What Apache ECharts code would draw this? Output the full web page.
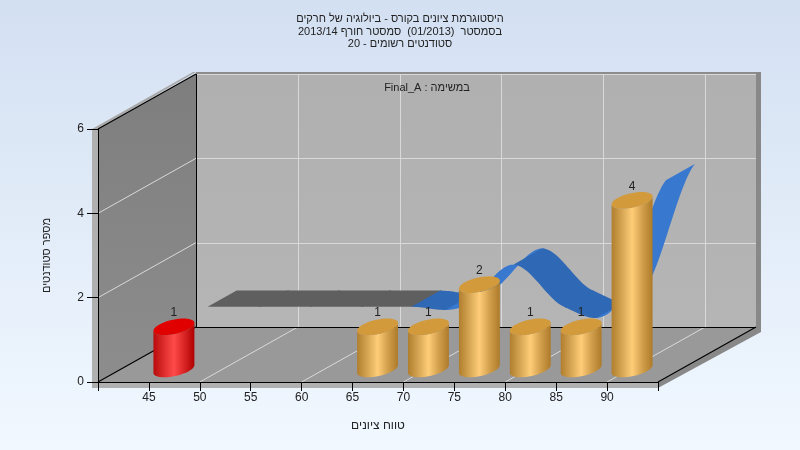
<!DOCTYPE html>
<html><head><meta charset="utf-8">
<style>html,body{margin:0;padding:0;background:#fff}#c{width:800px;height:450px}</style>
<script src="https://cdn.jsdelivr.net/npm/echarts@6/dist/echarts.min.js"></script>
</head><body><div id="c"></div>
<script>
const titleLines = ['היסטוגרמת ציונים בקורס - ביולוגיה של חרקים','בסמסטר  (01/2013)  סמסטר חורף 2013/14','סטודנטים רשומים - 20'];
const noteText = 'Final_A : במשימה';
const xAxisName = 'טווח ציונים';
const yAxisName = 'מספר סטודנטים';
const xTickLabels = [45,50,55,60,65,70,75,80,85,90];
const barGrades = [45,65,70,75,80,85,90];
const barCounts = [1,1,1,2,1,1,4];
const curveGrades = [45,50,55,60,65,70,75,80,85,90];
const curveCounts = [1,1,1,1,1,1,2,1,1,4];
const xMin = 40, xMax = 95, xStep = 5, yMin = 0, yMax = 6, yStep = 2;
const xGridValues = [50,60,70,80,90];
const yGridValues = [2,4,6];
const failBelow = 55;

// 3D projection of the depth axis, in pixels
const DX = 98, DY = -55;
const pr = (p, f) => [p[0] + DX * f, p[1] + DY * f];
const crisp = v => Math.round(v) + 0.5;
const poly = (points, fill, z2) => ({type:'polygon', shape:{points}, style:{fill}, z2:z2||0});
const seg = (a, b, stroke, lw) => ({type:'line', shape:{x1:a[0],y1:a[1],x2:b[0],y2:b[1]}, style:{stroke,lineWidth:lw||1}});
const vgrad = (a, b) => new echarts.graphic.LinearGradient(0,0,0,1,[{offset:0,color:a},{offset:1,color:b}]);
const hgrad = stops => new echarts.graphic.LinearGradient(0,0,1,0,stops.map((c,i)=>({offset:i/(stops.length-1),color:c})));

function renderWalls(params, api) {
  const fl = api.coord([xMin,yMin]), fr = api.coord([xMax,yMin]), tl = api.coord([xMin,yMax]);
  const bl = pr(fl,1), br = pr(fr,1), btl = pr(tl,1), btr = [br[0], btl[1]];
  const c = [];
  const t = 6, s = 5;
  // wall thickness
  c.push(poly([[fl[0]-t,tl[1]],[btl[0]-3,btl[1]-2],[btl[0],btl[1]-2],[tl[0],tl[1]]],'#a9a9a9'));
  c.push(poly([[fl[0]-t,tl[1]],[fl[0],tl[1]],[fl[0],fl[1]+s+1],[fl[0]-t,fl[1]+s+1]],'#b0b0b0'));
  c.push(poly([[fl[0],fl[1]],[fr[0],fr[1]],[fr[0],fr[1]+s+1],[fl[0],fl[1]+s+1]],'#b0b0b0'));
  c.push(poly([[btl[0],btl[1]-2],[br[0]+s,btl[1]-2],[br[0]+s,btl[1]],[btl[0],btl[1]]],'#8c8c8c'));
  c.push(poly([[br[0],btl[1]-2],[br[0]+s,btl[1]-2],[br[0]+s,br[1]+s],[fr[0],fr[1]+s+1],[fr[0],fr[1]],[br[0],br[1]]],'#888888'));
  // back, left, floor
  c.push(poly([btl,btr,br,bl],vgrad('#b0b0b0','#b5b5b5')));
  c.push(poly([tl,btl,bl,fl],vgrad('#7e7e7e','#8d8d8d')));
  c.push(poly([fl,fr,br,bl],'#999999'));
  // grid
  const gc = '#d9d9d9';
  xGridValues.forEach(v => {
    const a = api.coord([v,yMin]), b = pr(a,1), x = crisp(b[0]);
    c.push(seg([x,btl[1]],[x,b[1]],gc));
    c.push(seg(a,b,gc));
  });
  yGridValues.forEach(v => {
    const a = api.coord([xMin,v]), b = pr(a,1), y = crisp(b[1]);
    c.push(seg([b[0],y],[br[0],y],gc));
    if (v < yMax) c.push(seg(a,b,gc));
  });
  // black frame
  const k = '#000';
  c.push(seg([crisp(bl[0]),btl[1]],[crisp(bl[0]),bl[1]],k));
  c.push(seg([bl[0],crisp(bl[1])],[br[0],crisp(br[1])],k));
  c.push(seg(tl,btl,k,1.2));
  c.push(seg(fl,bl,k,1.2));
  c.push(seg(fr,br,k,1.2));
  return {type:'group', children:c};
}

const RIB_FRONT = 0.6, RIB_BACK = 0.895, RIB_STEPS = 24;
function curvePoint(i, u) {
  const y0 = curveCounts[Math.max(i-1,0)], y1 = curveCounts[i], y2 = curveCounts[i+1], y3 = curveCounts[Math.min(i+2,curveCounts.length-1)];
  const x1 = curveGrades[i], x2 = curveGrades[i+1];
  const m1 = (y2-y0)/2, m2 = (y3-y1)/2;
  const u2 = u*u, u3 = u2*u;
  const y = (2*u3-3*u2+1)*y1 + (u3-2*u2+u)*m1 + (-2*u3+3*u2)*y2 + (u3-u2)*m2;
  return [x1+(x2-x1)*u, y];
}
function ribbonPolygon(pts, api, fill) {
  const px = pts.map(p => api.coord(p));
  const front = px.map(p => pr(p,RIB_FRONT));
  const back = px.map(p => pr(p,RIB_BACK)).reverse();
  return poly(front.concat(back), fill);
}
function renderRibbon(params, api) {
  const i = params.dataIndex, last = curveGrades.length-1;
  if (i >= last) return {type:'group',children:[]};
  const flat = curveCounts[Math.max(i-1,0)]===curveCounts[i] && curveCounts[i]===curveCounts[i+1] && curveCounts[i+1]===curveCounts[Math.min(i+2,last)];
  const c = [];
  let run = [curvePoint(i,0)], sign = 0;
  for (let n=1;n<=RIB_STEPS;n++) {
    const p = curvePoint(i,n/RIB_STEPS), prev = run[run.length-1];
    const sg = p[1] >= prev[1] ? 1 : -1;
    if (sign && sg !== sign) {
      c.push(ribbonPolygon(run.concat([p]),api,sign>0?'#3878cf':'#2f68b4'));
      run = [prev];
    }
    sign = sg; run.push(p);
  }
  if (i+1 < last) run.push(curvePoint(i+1,1/RIB_STEPS)); // overlap hides the seam
  c.push(ribbonPolygon(run,api,flat?'#5f5f5f':(sign>0?'#3878cf':'#2f68b4')));
  return {type:'group',children:c};
}

const BAR_SHIFT_X = 25, BAR_SHIFT_Y = -13, BAR_A = 0.354, BAR_VX = 9.7, BAR_VY = -8.3;
const barColors = {
  gold:{side:['#b07e2e','#d5a553','#ffcd78','#d2a04d','#ad7a29'],top:'#d29a3a'},
  red:{side:['#b80b0b','#dc2c2c','#ff4a4a','#d92525','#b00000'],top:'#e00000'}
};
function renderBar(params, api) {
  const x = api.value(0), v = api.value(1);
  const pal = x < failBelow ? barColors.red : barColors.gold;
  const shift = p => [p[0]+BAR_SHIFT_X, p[1]+BAR_SHIFT_Y];
  const bot = shift(api.coord([x,yMin])), top = shift(api.coord([x,v]));
  const a = api.size([xStep,0])[0]*BAR_A;
  const t0 = Math.atan2(BAR_VX,a);
  const P = (c,t) => [c[0]+a*Math.cos(t)+BAR_VX*Math.sin(t), c[1]+BAR_VY*Math.sin(t)];
  const side = [], cap = [];
  const N = 48;
  // lower half of the bottom ellipse, then the lower half of the top one
  for (let n=0;n<=N;n++) side.push(P(bot,t0-Math.PI*n/N));
  for (let n=0;n<=N;n++) side.push(P(top,t0-Math.PI+Math.PI*n/N));
  for (let n=0;n<2*N;n++) cap.push(P(top,Math.PI*n/N));
  return {type:'group',children:[
    poly(side,hgrad(pal.side)),
    poly(cap,pal.top),
    {type:'text',x:top[0],y:top[1]-14,style:{text:String(v),fill:'#222',font:'12px "Liberation Sans"',align:'center',verticalAlign:'middle'}}
  ]};
}

const chart = echarts.init(document.getElementById('c'),null,{renderer:'canvas'});
chart.setOption({
  animation:false,
  backgroundColor:new echarts.graphic.LinearGradient(0,0,0,1,[{offset:0,color:'#d3e0f2'},{offset:1,color:'#f1f8ff'}]),
  title:{text:titleLines.join('\n'),left:'center',top:8,
    textStyle:{fontFamily:'Liberation Sans',fontSize:11,fontWeight:'normal',color:'#222',lineHeight:12.5}},
  grid:{left:98,top:129,width:560,height:253},
  xAxis:{type:'value',min:xMin,max:xMax,interval:xStep,z:5,
    name:xAxisName,nameLocation:'middle',nameGap:38,nameTextStyle:{fontFamily:'Liberation Sans',fontSize:12,color:'#222'},
    axisLine:{lineStyle:{color:'#000'}},axisTick:{length:9,lineStyle:{color:'#000'}},splitLine:{show:false},
    axisLabel:{fontFamily:'Liberation Sans',fontSize:12,color:'#222',margin:10,showMinLabel:true,showMaxLabel:true,
      formatter:v=>xTickLabels.includes(v)?String(v):''}},
  yAxis:{type:'value',min:yMin,max:yMax,interval:yStep,z:5,
    name:yAxisName,nameLocation:'middle',nameGap:46,nameTextStyle:{fontFamily:'Liberation Sans',fontSize:11,color:'#222'},
    axisLine:{show:true,lineStyle:{color:'#000'}},axisTick:{show:true,length:11,lineStyle:{color:'#000'}},splitLine:{show:false},
    axisLabel:{fontFamily:'Liberation Sans',fontSize:12,color:'#222',margin:14}},
  graphic:[{type:'text',x:427,y:88,z:20,style:{text:noteText,fill:'#222',font:'11px "Liberation Sans"',align:'center',verticalAlign:'middle'}}],
  series:[
    {type:'custom',z:1,coordinateSystem:'cartesian2d',clip:false,silent:true,renderItem:renderWalls,data:[[xMin,yMin]]},
    {type:'custom',z:2,coordinateSystem:'cartesian2d',clip:false,silent:true,renderItem:renderRibbon,data:curveGrades.map((g,i)=>[g,curveCounts[i]])},
    {type:'custom',z:3,coordinateSystem:'cartesian2d',clip:false,silent:true,renderItem:renderBar,data:barGrades.map((g,i)=>[g,barCounts[i]])}
  ]
});
</script></body></html>
